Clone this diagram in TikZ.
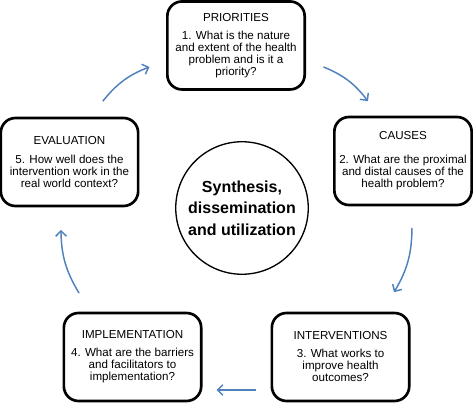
\documentclass[tikz,border=0pt]{standalone}
\usepackage{fontspec}
\setmainfont{Liberation Sans}
\usetikzlibrary{positioning, arrows.meta}
\definecolor{flowblue}{RGB}{79,129,189}

\begin{document}
\begin{tikzpicture}[node distance=2cm,on grid,
    stage/.style={draw, line width=2pt, rounded corners=11pt,
      minimum width=103pt, minimum height=66pt, inner sep=1pt,
      align=center, font=\fontsize{8.7}{9}\selectfont},
    hub/.style={draw, circle, line width=1pt, minimum size=93pt,
      align=center, font=\fontsize{12}{16}\selectfont\bfseries},
    flow/.style={-{Straight Barb[length=4pt,width=8pt]}, line width=1.1pt, flowblue}]
  \useasboundingbox (-181.5pt,-146.25pt) rectangle (173.25pt,156pt);

  \node[hub] (syn) {Synthesis,\\ dissemination\\ and utilization};
  \node[stage] (prior) [above left=121.9pt and 4.5pt of syn]
    {PRIORITIES\\[4.5pt] 1. What is the nature\\ and extent of the health\\ problem and is it a\\ priority?};
  \node[stage] (causes) [above right=35.25pt and 120.75pt of syn]
    {CAUSES\\[9pt] 2. What are the proximal\\ and distal causes of the\\ health problem?};
  \node[stage] (interv) [below right=111.75pt and 73.9pt of syn]
    {INTERVENTIONS\\[4.5pt] 3. What works to\\ improve health\\ outcomes?};
  \node[stage] (impl) [below left=111.75pt and 82.1pt of syn]
    {IMPLEMENTATION\\[4.5pt] 4. What are the barriers\\ and facilitators to\\ implementation?};
  \node[stage] (eval) [above left=34.5pt and 129.4pt of syn]
    {EVALUATION\\[5pt] 5. How well does the\\ intervention work in the\\ real world context?};

  % cycle round the hub
  \draw[flow] ([xshift=25pt,yshift=11.6pt]eval.north) to[bend left=15]
    ([xshift=-12.4pt,yshift=-16.1pt]prior.west);
  \draw[flow] ([xshift=13.1pt,yshift=-16.1pt]prior.east) to[bend left=15]
    ([xshift=-26.3pt,yshift=10.9pt]causes.north);
  \draw[flow] ([xshift=6.75pt,yshift=-16.1pt]causes.south) to[bend left=15]
    ([xshift=40.1pt,yshift=14.6pt]interv.north);
  \draw[flow] ([xshift=-11.25pt,yshift=-24.75pt]interv.west) --
    ([xshift=10.5pt,yshift=-24.75pt]impl.east);
  \draw[flow] ([xshift=-40.1pt,yshift=13.9pt]impl.north) to[bend left=15]
    ([xshift=-6.4pt,yshift=-16.9pt]eval.south);
\end{tikzpicture}
\end{document}
